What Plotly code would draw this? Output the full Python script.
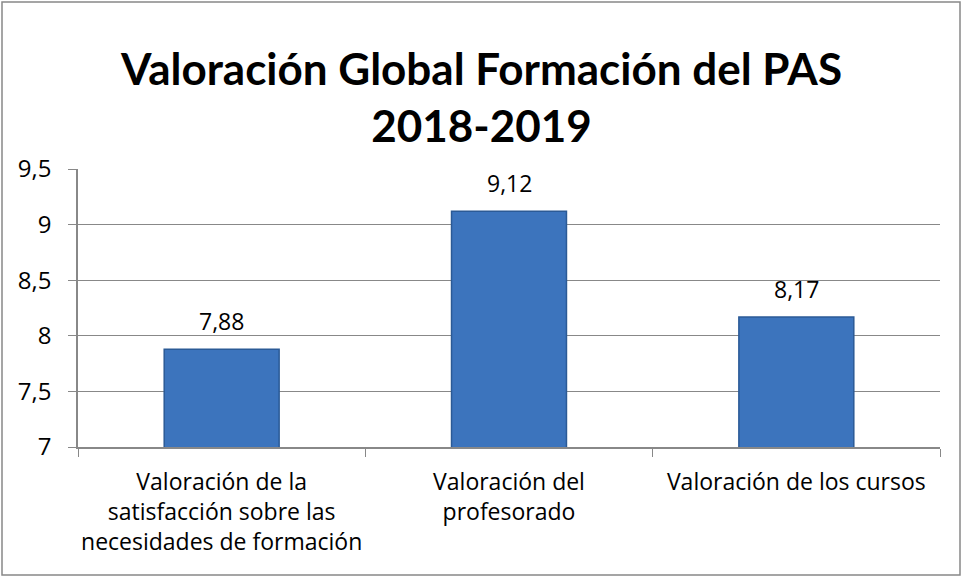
import plotly.graph_objects as go

categories = [
    "Valoración de la<br>satisfacción sobre las<br>necesidades de formación",
    "Valoración del<br>profesorado",
    "Valoración de los cursos",
]
values = [7.88, 9.12, 8.17]
y_ticks = [7, 7.5, 8, 8.5, 9, 9.5]

W, H = 963, 577
L, R, T, B = 78, 23, 169, 130
pw, ph = W - L - R, H - T - B
FONT = "Open Sans, sans-serif"

fig = go.Figure(go.Bar(
    x=categories, y=values, width=0.4,
    marker=dict(color="#3c74bd", line=dict(color="#2b5a96", width=1.5)),
    hoverinfo="x+y",
))

for c, v in zip(categories, values):
    fig.add_annotation(
        x=c, y=v, text=f"{v:.2f}".replace(".", ","), showarrow=False,
        yanchor="bottom", yshift=10,
        font=dict(family=FONT, size=23, color="#000"),
    )

fig.update_layout(
    width=W, height=H,
    margin=dict(l=L, r=R, t=T, b=B, autoexpand=False),
    paper_bgcolor="white", plot_bgcolor="white",
    separators=",.",
    showlegend=False,
    title=dict(
        text="<b>Valoración Global Formación del PAS<br>2018-2019</b>",
        x=0.5, xanchor="center", y=1 - 85 / H, yanchor="middle",
        font=dict(family="Lato, sans-serif", size=44, color="#000"),
    ),
    xaxis=dict(
        showline=True, linecolor="#888", linewidth=1.5,
        ticks="outside", ticklen=8, tickcolor="#888", tickson="boundaries",
        tickfont=dict(family=FONT, size=23, color="#000"),
        ticklabelstandoff=14, tickangle=0, automargin=False,
        showgrid=False,
    ),
    yaxis=dict(
        range=[7, 9.5], tickvals=y_ticks,
        showline=True, linecolor="#888", linewidth=1.5,
        ticks="outside", ticklen=8, tickcolor="#888",
        showgrid=True, gridcolor="#888", gridwidth=1.2,
        tickfont=dict(family=FONT, size=24, color="#000"),
        ticklabelstandoff=12, automargin=False,
        zeroline=False,
    ),
    shapes=[dict(
        type="rect", xref="paper", yref="paper",
        x0=(2 - L) / pw, x1=(960 - L) / pw,
        y0=(H - B - 575) / ph, y1=(H - B - 2) / ph,
        line=dict(color="#888", width=1.5), fillcolor="rgba(0,0,0,0)", layer="below",
    )],
)

fig.write_html(
    "out.html",
    config={"displayModeBar": False},
    post_script="document.body.style.margin='0';document.body.style.overflow='hidden';",
)
